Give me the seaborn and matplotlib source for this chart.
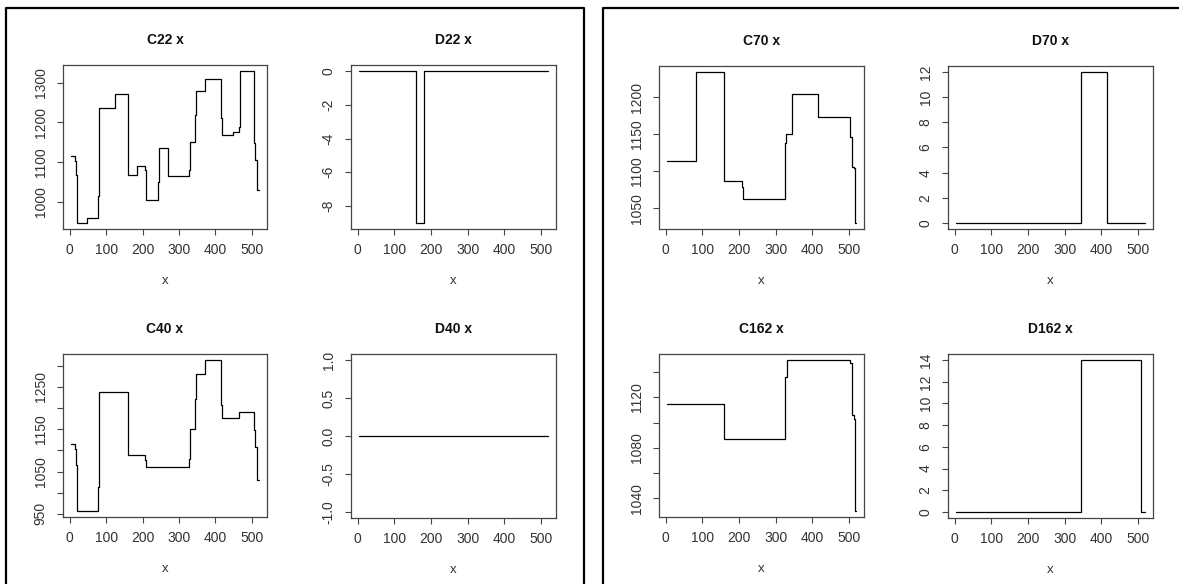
import numpy as np
import pandas as pd
import matplotlib
matplotlib.use("Agg")
import matplotlib.pyplot as plt
from matplotlib.lines import Line2D
import seaborn as sns

# ---------------- data (step functions) ----------------
c22_x = [2, 13, 17, 20, 46, 77, 79, 81, 124, 159, 184, 207, 210, 243, 245, 271, 327, 329, 331,
         344, 347, 372, 415, 417, 447, 465, 468, 506, 510, 515, 521]
c22_y = [1116, 1103, 1066, 946, 958, 1015, 1026, 1236, 1273, 1066, 1089, 1081, 1005, 1049, 1136,
         1064, 1081, 1138, 1150, 1219, 1279, 1310, 1211, 1168, 1175, 1189, 1330, 1147, 1106, 1030, 1030]

d22_x = [2, 159, 180, 521]
d22_y = [0, -9, 0, 0]

c40_x = [2, 13, 17, 20, 77, 79, 81, 159, 207, 210, 327, 329, 331, 344, 347, 372, 415, 417, 465,
         506, 510, 515, 521]
c40_y = [1116, 1102, 1065, 957, 1013, 1028, 1238, 1088, 1078, 1061, 1080, 1138, 1151, 1220, 1280,
         1313, 1206, 1176, 1191, 1147, 1108, 1029, 1029]

d40_x = [2, 521]
d40_y = [0, 0]

c70_x = [2, 82, 159, 207, 210, 325, 327, 329, 345, 417, 503, 510, 515, 518, 521]
c70_y = [1114, 1234.5, 1087, 1079, 1062, 1081, 1138, 1150, 1204.5, 1173, 1147, 1106, 1104, 1030, 1030]

d70_x = [2, 346, 417, 521]
d70_y = [0, 12, 0, 0]

c162_x = [2, 159, 327, 330, 503, 508, 510, 515, 518, 521]
c162_y = [1114.4, 1086.7, 1136, 1149.5, 1147, 1107, 1106, 1103, 1030, 1030]

d162_x = [2, 346, 508, 521]
d162_y = [0, 14, 0, 0]

x_ticks = [0, 100, 200, 300, 400, 500]

# ---------------- style ----------------
sns.set_theme(style="ticks")
plt.rcParams['font.family'] = ['Liberation Sans', 'DejaVu Sans']
plt.rcParams['axes.edgecolor'] = '#444444'
plt.rcParams['xtick.color'] = '#444444'
plt.rcParams['ytick.color'] = '#444444'

W, H = 1179, 584
fig = plt.figure(figsize=(W / 100, H / 100), dpi=100)
fig.patch.set_facecolor('white')


def pos(l, r, t, b):
    return [l / W, 1 - b / H, (r - l) / W, (b - t) / H]


def rlim(vals):
    lo, hi = min(vals), max(vals)
    if lo == hi:
        return (lo - 1.08, hi + 1.08)
    w = hi - lo
    return (lo - 0.04 * w, hi + 0.04 * w)


panels = [
    ("C22 x", c22_x, c22_y, pos(63, 267, 65, 229), [1000, 1100, 1200, 1300], None),
    ("D22 x", d22_x, d22_y, pos(351, 556, 65, 229), [0, -2, -4, -6, -8], None),
    ("C40 x", c40_x, c40_y, pos(63, 267, 354, 517),
     [950, 1000, 1050, 1100, 1150, 1200, 1250, 1300],
     ["950", "", "1050", "", "1150", "", "1250", ""]),
    ("D40 x", d40_x, d40_y, pos(351, 556, 354, 518), [-1.0, -0.5, 0.0, 0.5, 1.0],
     ["-1.0", "-0.5", "0.0", "0.5", "1.0"]),
    ("C70 x", c70_x, c70_y, pos(659, 864, 66, 229), [1050, 1100, 1150, 1200], None),
    ("D70 x", d70_x, d70_y, pos(948, 1153, 66, 229), [0, 2, 4, 6, 8, 10, 12], None),
    ("C162 x", c162_x, c162_y, pos(659, 864, 354, 517),
     [1040, 1060, 1080, 1100, 1120, 1140], ["1040", "", "1080", "", "1120", ""]),
    ("D162 x", d162_x, d162_y, pos(948, 1153, 354, 518), [0, 2, 4, 6, 8, 10, 12, 14], None),
]

for title, xs, ys, rect, yt, ylabels in panels:
    ax = fig.add_axes(rect)
    df = pd.DataFrame({"x": xs, "y": ys})
    sns.lineplot(data=df, x="x", y="y", ax=ax, color="black", lw=0.9,
                 drawstyle="steps-post", estimator=None, sort=False)
    ax.set_xlim(*rlim(xs))
    ax.set_ylim(*rlim(ys))
    ax.set_xticks(x_ticks)
    ax.set_xticklabels([str(t) for t in x_ticks])
    ax.set_yticks(yt)
    if ylabels is None:
        ylabels = [str(t) for t in yt]
    ax.set_yticklabels(ylabels)
    ax.tick_params(axis='both', length=4, width=0.8, labelsize=10, labelcolor='#333333')
    ax.tick_params(axis='x', pad=6)
    ax.tick_params(axis='y', pad=7, labelrotation=90)
    for lab in ax.get_yticklabels():
        lab.set_va('center')
    for s in ax.spines.values():
        s.set_visible(True)
        s.set_linewidth(0.9)
        s.set_color('#444444')
    ax.set_title(title, fontsize=10, fontweight='bold', pad=15, color='#111111')
    ax.set_xlabel("x", fontsize=9.5, labelpad=13, color='#333333')
    ax.set_ylabel("")

# ---------------- outer frames ----------------
def fx(p):
    return p / W


def fy(p):
    return 1 - p / H


frame_kw = dict(transform=fig.transFigure, color='black', lw=1.6)
# left frame
fig.add_artist(Line2D([fx(6), fx(6), fx(584), fx(584)], [fy(590), fy(8), fy(8), fy(590)], **frame_kw))
# right frame
fig.add_artist(Line2D([fx(603), fx(603), fx(1185)], [fy(590), fy(8), fy(8)], **frame_kw))

fig.savefig("out.png", dpi=100, facecolor='white')
